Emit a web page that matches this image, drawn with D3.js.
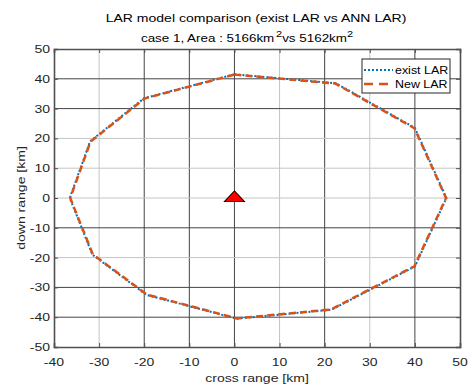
<!DOCTYPE html>
<html><head><meta charset="utf-8">
<script src="https://cdn.jsdelivr.net/npm/d3@7"></script>
<style>body{margin:0;background:#fff}text{font-family:"Liberation Sans",Arial,sans-serif}</style>
</head><body><svg id="c" width="472" height="387"></svg>
<script>
const existX = [0, 22.5, 40, 47, 40, 21.5, 0.5, -19.5, -31.5, -36.5, -32, -20, 0];
const existY = [41.5, 38.5, 23.5, 0, -23, -37.5, -40.5, -32.5, -19, 0, 19, 33.5, 41.5];
const newX = [0, 22.4, 39.9, 46.9, 39.9, 21.4, 0.5, -19.4, -31.4, -36.4, -31.9, -19.9, 0];
const newY = [41.4, 38.4, 23.4, 0, -22.9, -37.4, -40.4, -32.4, -18.9, 0, 18.9, 33.4, 41.4];
const xTicks = [-40,-30,-20,-10,0,10,20,30,40,50];
const yTicks = [-50,-40,-30,-20,-10,0,10,20,30,40,50];
const darkX = [-20,-10,0,20,40];
const darkY = [40,30,-10,-30,-40];
const titleLine1 = "LAR model comparison (exist LAR vs ANN LAR)";
const seriesNames = ["exist LAR","New LAR"];

const svg = d3.select("#c");
const L=54, R=460, T=49, B=347;
const x = d3.scaleLinear().domain([-40,50]).range([L,R]);
const y = d3.scaleLinear().domain([-50,50]).range([B,T]);
const sx = 1.22;
function stretched(sel, ax, ay, anchor){
  return sel.attr("transform",`translate(${ax},${ay}) scale(${sx},1)`).attr("text-anchor",anchor);
}

// grid
const g = svg.append("g");
xTicks.forEach(v=>{ if(v>-40&&v<50) g.append("line").attr("x1",x(v)).attr("x2",x(v)).attr("y1",T).attr("y2",B)
  .attr("stroke",darkX.includes(v)?"#444":"#c4c4c4").attr("stroke-width",1);});
yTicks.forEach(v=>{ if(v>-50&&v<50) g.append("line").attr("y1",y(v)).attr("y2",y(v)).attr("x1",L).attr("x2",R)
  .attr("stroke",darkY.includes(v)?"#444":"#c4c4c4").attr("stroke-width",1);});

// axes with inward ticks
const ax = d3.axisBottom(x).tickValues(xTicks).tickSize(-4).tickFormat("");
const ay = d3.axisLeft(y).tickValues(yTicks).tickSize(-4).tickFormat("");
const axT = d3.axisTop(x).tickValues(xTicks).tickSize(-4).tickFormat("");
const ayR = d3.axisRight(y).tickValues(yTicks).tickSize(-4).tickFormat("");
[[ax,`translate(0,${B})`],[ay,`translate(${L},0)`],[axT,`translate(0,${T})`],[ayR,`translate(${R},0)`]].forEach(([a,t])=>{
  const gg=svg.append("g").attr("transform",t).call(a);
  gg.selectAll("path").attr("stroke","#505050").attr("stroke-width",1.6);
  gg.selectAll("line").attr("stroke","#505050");
});

// tick labels
xTicks.forEach(v=>stretched(svg.append("text"),x(v),366,"middle").attr("font-size",11.5).attr("fill","#262626").text(v));
yTicks.forEach(v=>stretched(svg.append("text"),50,y(v)+4,"end").attr("font-size",11.5).attr("fill","#262626").text(v));

// lines
const line = d3.line().x(d=>x(d[0])).y(d=>y(d[1]));
const exist = existX.map((v,i)=>[v,existY[i]]);
const nw = newX.map((v,i)=>[v,newY[i]]);
svg.append("path").attr("d",line(exist)).attr("fill","none").attr("stroke","#0072BD").attr("stroke-width",2).attr("stroke-dasharray","2,2");
svg.append("path").attr("d",line(nw)).attr("fill","none").attr("stroke","#D95319").attr("stroke-width",2.5).attr("stroke-dasharray","7,4");

// marker
const tri = d3.symbol().type(d3.symbolTriangle).size(90);
svg.append("path").attr("d",tri()).attr("transform",`translate(${x(0)},${y(0)}) scale(1.4,0.85)`)
  .attr("fill","#ff0000").attr("stroke","#000").attr("stroke-width",0.9);

// legend
const lg = svg.append("g");
lg.append("rect").attr("x",362).attr("y",59).attr("width",88).attr("height",34).attr("fill","#fff").attr("stroke","#262626").attr("stroke-width",1);
lg.append("line").attr("x1",364).attr("x2",393).attr("y1",70).attr("y2",70).attr("stroke","#0072BD").attr("stroke-width",2).attr("stroke-dasharray","2,2");
lg.append("line").attr("x1",364).attr("x2",393).attr("y1",84).attr("y2",84).attr("stroke","#D95319").attr("stroke-width",2.5).attr("stroke-dasharray","9,6");
seriesNames.forEach((s,i)=>stretched(lg.append("text"),395,74+i*14,"start").attr("font-size",10.2).attr("fill","#000").text(s));

// titles
stretched(svg.append("text"),256,22,"middle").attr("font-size",11.5).attr("fill","#000").text(titleLine1);
const t2 = stretched(svg.append("text"),247,42,"middle").attr("font-size",11).attr("fill","#000");
t2.append("tspan").text("case 1, Area : 5166km");
t2.append("tspan").attr("dy",-5).attr("dx",1.5).attr("font-size",9).text("2");
t2.append("tspan").attr("dy",5).text("vs 5162km");
t2.append("tspan").attr("dy",-5).attr("font-size",9).text("2");

// axis labels
stretched(svg.append("text"),257,382,"middle").attr("font-size",11.5).attr("fill","#262626").text("cross range [km]");
svg.append("text").attr("transform",`translate(25,198) rotate(-90) scale(${sx},1)`).attr("text-anchor","middle").attr("font-size",11.5).attr("fill","#262626").text("down range [km]");
</script></body></html>
